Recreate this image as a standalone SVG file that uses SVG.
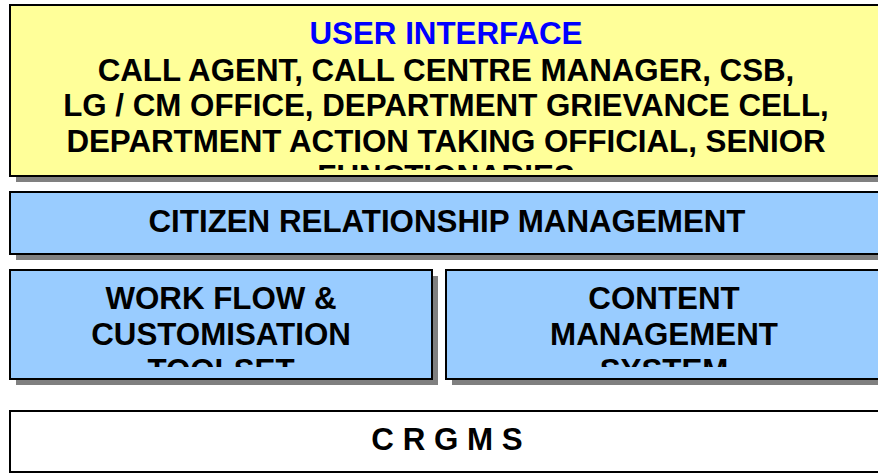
<svg xmlns="http://www.w3.org/2000/svg" width="878" height="473" viewBox="0 0 878 473">
  <style>
    .shadow { fill: #808080; }
    .box { stroke: #000000; stroke-width: 2; }
    .yellow { fill: #FFFF99; }
    .blue { fill: #99CCFF; }
    .white { fill: #FFFFFF; }
    text { font-family: "Liberation Sans", Arial, sans-serif; font-weight: bold; font-size: 31.3px; text-anchor: middle; fill: #000000; }
    .title { fill: #0000FF; }
  </style>
  <defs>
    <clipPath id="clipTop"><rect x="10" y="5" width="873" height="165"/></clipPath>
    <clipPath id="clipWF"><rect x="10" y="270" width="422" height="97"/></clipPath>
    <clipPath id="clipCMS"><rect x="446" y="270" width="437" height="97"/></clipPath>
  </defs>
  <rect width="878" height="473" fill="#FFFFFF"/>

  <g id="user-interface">
    <rect class="shadow" x="16" y="11" width="873" height="171"/>
    <rect class="box yellow" x="10" y="5" width="873" height="171"/>
    <g clip-path="url(#clipTop)">
      <text class="title" x="446" y="44">USER INTERFACE</text>
      <text x="446" y="80.5">CALL AGENT, CALL CENTRE MANAGER, CSB,</text>
      <text x="446" y="116">LG / CM OFFICE, DEPARTMENT GRIEVANCE CELL,</text>
      <text x="446" y="151.5">DEPARTMENT ACTION TAKING OFFICIAL, SENIOR</text>
      <text x="446" y="187">FUNCTIONARIES</text>
    </g>
  </g>

  <g id="crm">
    <rect class="shadow" x="16" y="198" width="873" height="62"/>
    <rect class="box blue" x="10" y="192" width="873" height="62"/>
    <text x="447" y="232">CITIZEN RELATIONSHIP MANAGEMENT</text>
  </g>

  <g id="workflow">
    <rect class="shadow" x="16" y="276" width="422" height="109"/>
    <rect class="box blue" x="10" y="270" width="422" height="109"/>
    <g clip-path="url(#clipWF)">
      <text x="221" y="309">WORK FLOW &amp;</text>
      <text x="221" y="345">CUSTOMISATION</text>
      <text x="221" y="381">TOOLSET</text>
    </g>
  </g>

  <g id="cms">
    <rect class="shadow" x="452" y="276" width="437" height="109"/>
    <rect class="box blue" x="446" y="270" width="437" height="109"/>
    <g clip-path="url(#clipCMS)">
      <text x="664" y="309">CONTENT</text>
      <text x="664" y="345">MANAGEMENT</text>
      <text x="664" y="381">SYSTEM</text>
    </g>
  </g>

  <g id="crgms">
    <rect class="shadow" x="16" y="417" width="873" height="61"/>
    <rect class="box white" x="10" y="411" width="873" height="61"/>
    <text x="447" y="450">C R G M S</text>
  </g>

  <g id="connectors"></g>
</svg>
